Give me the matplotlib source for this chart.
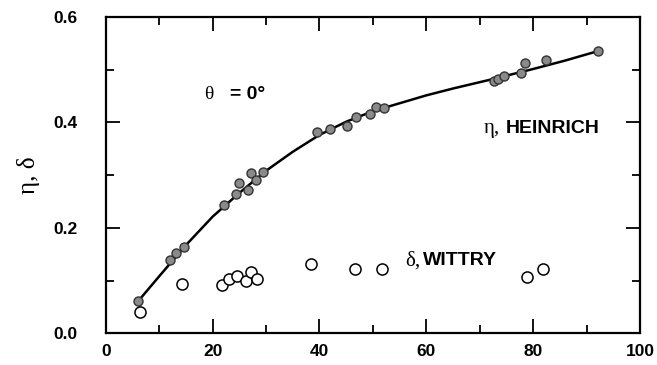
import matplotlib
matplotlib.use("Agg")
import matplotlib.pyplot as plt
from matplotlib.ticker import MultipleLocator, FormatStrFormatter

# eta, Heinrich (filled)
eta_x = [6.0, 12.1, 13.2, 14.6, 22.1, 24.4, 25.0, 26.6, 27.1, 28.2, 29.4,
         39.6, 42.0, 45.2, 46.9, 49.5, 50.6, 52.0, 72.7, 73.5, 74.5, 77.7,
         78.5, 82.5, 92.2]
eta_y = [0.061, 0.139, 0.152, 0.164, 0.243, 0.264, 0.284, 0.272, 0.303,
         0.291, 0.306, 0.382, 0.388, 0.393, 0.410, 0.416, 0.429, 0.428,
         0.478, 0.482, 0.487, 0.493, 0.512, 0.519, 0.536]

# fitted curve through eta
curve_x = [6, 10, 15, 20, 25, 30, 35, 40, 45, 50, 55, 60, 65, 72.5, 80, 86, 92.5]
curve_y = [0.060, 0.108, 0.167, 0.221, 0.266, 0.308, 0.344, 0.376, 0.401,
           0.421, 0.436, 0.451, 0.464, 0.482, 0.501, 0.517, 0.536]

# delta, Wittry (open)
delta_x = [6.4, 14.3, 21.8, 23.0, 24.6, 26.3, 27.1, 28.4, 38.4, 46.7, 51.8, 78.8, 81.9]
delta_y = [0.040, 0.093, 0.092, 0.103, 0.109, 0.099, 0.116, 0.102, 0.131,
           0.122, 0.122, 0.107, 0.122]

sans = "Liberation Sans"
serif = "Liberation Serif"

fig = plt.figure(figsize=(6.57, 3.65), dpi=100)
ax = fig.add_axes([0.161, 0.087, 0.813, 0.867])

ax.plot(curve_x, curve_y, color="black", lw=1.8, zorder=2)
ax.plot(eta_x, eta_y, "o", ms=6.5, mfc="#8a8a8a", mec="#333333", mew=1, zorder=3)
ax.plot(delta_x, delta_y, "o", ms=8, mfc="white", mec="black", mew=1.1, zorder=3)

ax.set_xlim(0, 100)
ax.set_ylim(0, 0.6)
ax.xaxis.set_major_locator(MultipleLocator(20))
ax.xaxis.set_minor_locator(MultipleLocator(10))
ax.yaxis.set_major_locator(MultipleLocator(0.2))
ax.yaxis.set_minor_locator(MultipleLocator(0.1))
ax.yaxis.set_major_formatter(FormatStrFormatter("%.1f"))

ax.tick_params(which="both", direction="in", top=True, right=True, width=1.3)
ax.tick_params(which="major", length=10)
ax.tick_params(which="minor", length=6)
ax.tick_params(axis="x", pad=8)
ax.tick_params(axis="y", pad=20)
for lab in ax.get_xticklabels() + ax.get_yticklabels():
    lab.set_fontfamily(sans)
    lab.set_fontweight("bold")
    lab.set_fontsize(12.5)
for s in ax.spines.values():
    s.set_linewidth(1.6)

ax.set_ylabel("η, δ", fontfamily=serif, fontsize=18, labelpad=10)

# annotations
ax.text(18.5, 0.445, "θ", fontfamily=serif, fontsize=14)
ax.text(23.2, 0.445, "= 0°", fontfamily=sans, fontweight="bold", fontsize=14)
ax.text(70.7, 0.380, "η,", fontfamily=serif, fontsize=15)
ax.text(74.9, 0.380, "HEINRICH", fontfamily=sans, fontweight="bold", fontsize=14)
ax.text(56.0, 0.129, "δ,", fontfamily=serif, fontsize=15)
ax.text(59.4, 0.129, "WITTRY", fontfamily=sans, fontweight="bold", fontsize=14)

fig.savefig("out.png", dpi=100)
